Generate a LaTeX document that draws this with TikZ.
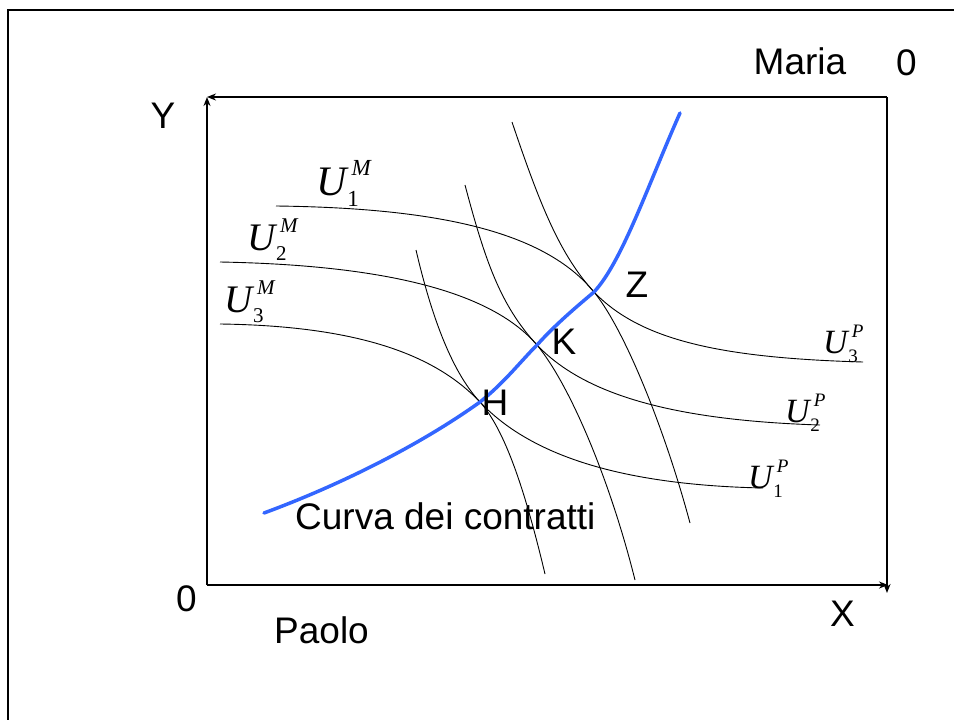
\documentclass[tikz,border=0pt]{standalone}
\usepackage{fontspec}
\setmainfont{Liberation Sans}
\newfontfamily\timesfam{Liberation Serif}
\usetikzlibrary{arrows.meta}
\definecolor{curveblue}{RGB}{51,102,255}
\newcommand\Ulab[4]{{\timesfam\fontsize{#1}{#1}\selectfont\itshape U%
\rlap{\raisebox{0.46em}{\kern0.12em\fontsize{#2}{#2}\selectfont #3}}%
\raisebox{-0.27em}{\kern0.02em\fontsize{#2}{#2}\selectfont\upshape #4}}}
\tikzset{
  txt/.style={inner sep=0pt, anchor=base, font=\fontsize{37}{40}\selectfont},
  ulab/.style={inner sep=0pt, anchor=base west},
  axis/.style={line width=1.5pt, -{Stealth[length=9pt,width=7pt]}},
  icurve/.style={line width=0.9pt},
  contract/.style={line width=3.5pt, curveblue, line cap=round},
}
\begin{document}
\begin{tikzpicture}[x=1pt,y=-1pt]
\useasboundingbox (0,0) rectangle (954,720);
% outer frame (partially visible)
\draw[line width=2.5pt] (8,720) -- (8,10) -- (954,10);
% Edgeworth box
\coordinate (O) at (207,585);
\coordinate (Ytop) at (207,97);
\coordinate (Xend) at (888,585);
\coordinate (MO) at (887,97);
\coordinate (MOdown) at (887,593);
\draw[axis] (O) -- (Ytop);
\draw[axis] (O) -- (Xend);
\draw[axis] (MO) -- (Ytop);
\draw[axis] (MO) -- (MOdown);
% tangency points
\coordinate (pZ) at (594,292);
\coordinate (pK) at (537,345);
\coordinate (pH) at (480,402);
% Maria's indifference curves
\draw[icurve] (276,206) .. controls (440,208) and (545,232) .. (pZ)
  .. controls (625,330) and (665,430) .. (690,523);
\draw[icurve] (220,262) .. controls (380,265) and (490,290) .. (pK)
  .. controls (570,385) and (610,480) .. (635,580);
\draw[icurve] (220,324) .. controls (370,326) and (440,360) .. (pH)
  .. controls (505,430) and (525,490) .. (545,574);
% Paolo's indifference curves
\draw[icurve] (512,122) .. controls (540,205) and (560,255) .. (pZ)
  .. controls (640,340) and (720,358) .. (863,362);
\draw[icurve] (465,185) .. controls (485,260) and (500,305) .. (pK)
  .. controls (580,390) and (660,420) .. (820,425);
\draw[icurve] (416,250) .. controls (430,310) and (450,370) .. (pH)
  .. controls (530,455) and (620,485) .. (763,488);
% contract curve
\draw[contract] (264,513) .. controls (340,485) and (420,445) .. (pH)
  .. controls (505,382) and (520,362) .. (pK)
  .. controls (555,325) and (575,308) .. (pZ)
  .. controls (622,262) and (648,185) .. (680,113);
% texts
\node[txt] (maria) at (800,74) {Maria};
\node[txt] (zeroM) at (906.5,75) {0};
\node[txt] (ylab) at (163,128) {Y};
\node[txt] (zeroP) at (186.5,611) {0};
\node[txt] (paolo) at (321.5,643) {Paolo};
\node[txt] (xlab) at (842.5,626) {X};
\node[txt] (Z) at (637,297) {Z};
\node[txt] (K) at (564,354) {K};
\node[txt] (H) at (495,415) {H};
\node[txt, anchor=base west] (cc) at (295,529) {Curva dei contratti};
% utility labels
\node[ulab] (u1m) at (316,195) {\Ulab{42}{23}{M}{1}};
\node[ulab] (u2m) at (247,250) {\Ulab{39}{21}{M}{2}};
\node[ulab] (u3m) at (224,312) {\Ulab{39}{21}{M}{3}};
\node[ulab] (u3p) at (823,353) {\Ulab{34}{19}{P}{3}};
\node[ulab] (u2p) at (785,422) {\Ulab{34}{19}{P}{2}};
\node[ulab] (u1p) at (748,488) {\Ulab{34}{19}{P}{1}};
\end{tikzpicture}
\end{document}
